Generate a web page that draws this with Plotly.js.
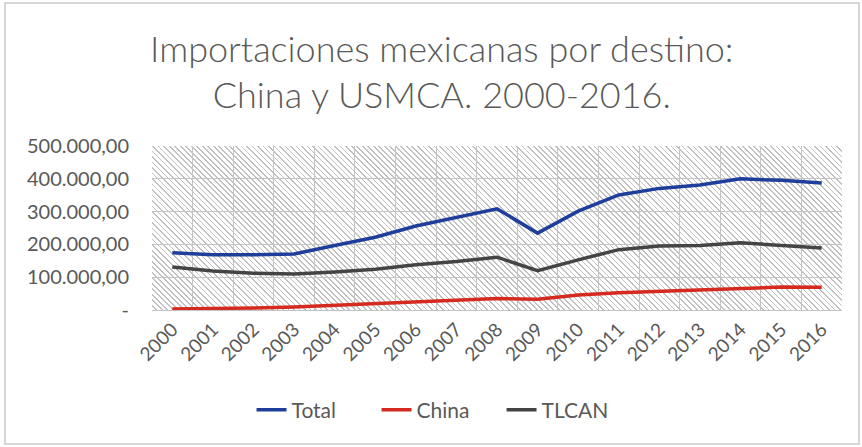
<!DOCTYPE html>
<html>
<head>
<meta charset="utf-8">
<script src="https://cdn.plot.ly/plotly-3.0.1.min.js"></script>
<style>
  html, body { margin: 0; padding: 0; background: #fff; }
  #wrap { position: relative; width: 862px; height: 447px; overflow: hidden; background: #fff; }
  #hatch { position: absolute; display: none;
           background-color: #ffffff;
           background-image: repeating-linear-gradient(45deg, #ffffff 0px, #ffffff 2.7px, #c2c2c2 2.7px, #c2c2c2 3.9px); }
  #chart { position: absolute; left: 0; top: 0; width: 862px; height: 447px; }
  #frame { position: absolute; left: 4px; top: 2px; width: 856px; height: 443px;
           border: 2px solid #d6d6d6; pointer-events: none; box-sizing: border-box; }
</style>
</head>
<body>
<div id="wrap">
  <div id="hatch"></div>
  <div id="chart"></div>
  <div id="frame"></div>
</div>
<script>
const years = ['2000','2001','2002','2003','2004','2005','2006','2007','2008',
               '2009','2010','2011','2012','2013','2014','2015','2016'];
const total = [174458, 168396, 168679, 170546, 196810, 221820, 256058, 281949, 308603,
               234385, 301482, 350843, 370752, 381210, 399977, 395232, 387065];
const china = [2880, 4027, 6274, 9400, 14373, 17696, 24438, 29744, 34690,
               32529, 45608, 52248, 56936, 61321, 66256, 69988, 69521];
const tlcan = [131000, 119000, 112000, 110000, 116000, 124000, 138000, 148000, 161000,
               120000, 153000, 184000, 195000, 197000, 205000, 196000, 189000];
const yTickVals = [0, 100000, 200000, 300000, 400000, 500000];
const yTickText = ['-', '100.000,00', '200.000,00', '300.000,00', '400.000,00', '500.000,00'];

const fontFam = 'Lato, "Open Sans", sans-serif';
const textColor = '#595959';

const traces = [
  { name: 'Total', x: years, y: total, type: 'scatter', mode: 'lines',
    line: { color: '#1f3e9c', width: 3.5 } },
  { name: 'China', x: years, y: china, type: 'scatter', mode: 'lines',
    line: { color: '#d42a1f', width: 3.5 } },
  { name: 'TLCAN', x: years, y: tlcan, type: 'scatter', mode: 'lines',
    line: { color: '#444444', width: 3.5 } }
];

const layout = {
  width: 862, height: 447,
  margin: { l: 152, r: 20, t: 146, b: 137 },
  paper_bgcolor: 'rgba(0,0,0,0)',
  plot_bgcolor: 'rgba(0,0,0,0)',
  font: { family: fontFam, color: textColor, size: 17 },
  title: {
    text: 'Importaciones mexicanas por destino:<br>China y USMCA. 2000-2016.',
    font: { family: fontFam, size: 36, color: textColor, weight: 300 },
    xref: 'paper', x: 0.42, xanchor: 'center',
    yref: 'container', y: 0.862, yanchor: 'top'
  },
  xaxis: {
    type: 'category',
    range: [-0.5, 16.5],
    tickson: 'boundaries',
    showgrid: true, gridcolor: '#c4c4c4', gridwidth: 1,
    showline: true, linecolor: '#c4c4c4', linewidth: 1,
    ticks: '', tickangle: -45,
    tickfont: { family: fontFam, size: 19, color: textColor },
    fixedrange: true
  },
  yaxis: {
    range: [0, 500000],
    tickvals: yTickVals, ticktext: yTickText,
    showgrid: true, gridcolor: '#c4c4c4', gridwidth: 1,
    zeroline: false, showline: false,
    ticks: '', ticklabelstandoff: 22,
    tickfont: { family: fontFam, size: 20, color: textColor },
    fixedrange: true
  },
  showlegend: true,
  legend: {
    orientation: 'h', xref: 'paper', x: 0.416, xanchor: 'center',
    yref: 'paper', y: -0.61, yanchor: 'middle',
    font: { family: fontFam, size: 21, color: textColor },
    entrywidth: 80,
    bgcolor: 'rgba(0,0,0,0)'
  }
};

Plotly.newPlot('chart', traces, layout, { displayModeBar: false, staticPlot: true }).then(function (gd) {
  const s = gd._fullLayout._size;
  const h = document.getElementById('hatch');
  h.style.left = s.l + 'px';
  h.style.top = s.t + 'px';
  h.style.width = s.w + 'px';
  h.style.height = s.h + 'px';
  h.style.display = 'block';
});
</script>
</body>
</html>
